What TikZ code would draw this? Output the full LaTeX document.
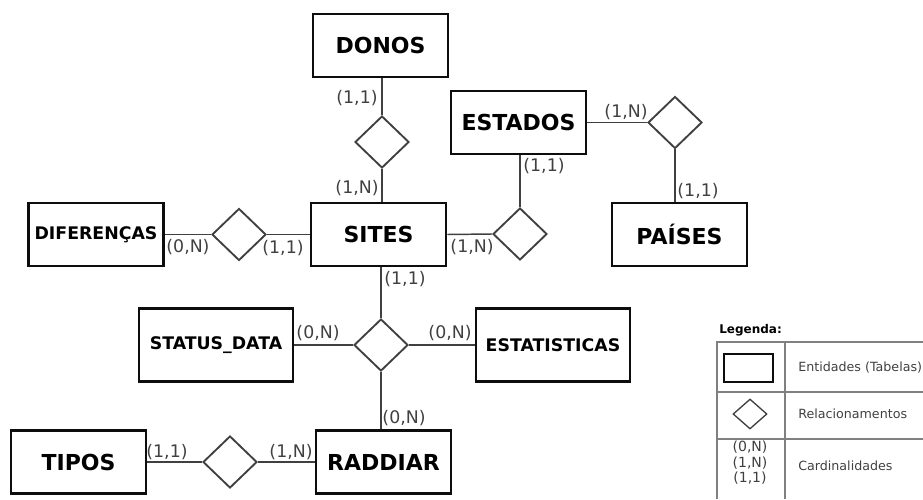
\documentclass[tikz,border=0pt]{standalone}
\usepackage{fontspec}
\setmainfont{DejaVu Sans}
\usepackage{tikz}
\usetikzlibrary{shapes.geometric}
\definecolor{myblack}{rgb}{0.050,0.050,0.050}
\definecolor{mygray}{rgb}{0.250,0.250,0.250}
\definecolor{tablegray}{rgb}{0.500,0.500,0.500}
\tikzstyle{entity}=[rectangle,draw=myblack,line width=2pt,minimum width=101.25pt,minimum height=47.25pt,inner sep=0pt,font=\bfseries\fontsize{16.5}{18}\selectfont]
\tikzstyle{wideentity}=[entity,minimum width=115.5pt,minimum height=54.75pt,font=\bfseries\fontsize{13}{15}\selectfont]
\tikzstyle{relation}=[diamond,draw=mygray,line width=1.4pt,minimum width=40.5pt,minimum height=39pt,inner sep=0pt]
\tikzstyle{card}=[text=mygray,inner sep=0pt,font=\fontsize{13}{14}\selectfont]
\tikzstyle{link}=[draw=mygray,line width=1.1pt]
\tikzstyle{legtext}=[anchor=west,text=mygray,inner sep=0pt,font=\fontsize{9.5}{11}\selectfont]

\begin{document}
\begin{tikzpicture}[x=0.75pt,y=-0.75pt]
	\useasboundingbox (0,0) rectangle (923,499);
	% entidades
	\node [style=entity] (donos) at (380.5,45.5) {DONOS};
	\node [style=entity] (estados) at (518.5,122.5) {ESTADOS};
	\node [style=entity,font=\bfseries\fontsize{13}{15}\selectfont] (diferencas) at (96,234.5) {DIFEREN\c{C}AS};
	\node [style=entity] (sites) at (378.5,234.5) {SITES};
	\node [style=entity] (paises) at (679.5,234.5) {PA\'ISES};
	\node [style=wideentity] (statusdata) at (216,345) {STATUS\_DATA};
	\node [style=wideentity] (estatisticas) at (553,345) {ESTATISTICAS};
	\node [style=entity] (tipos) at (78.5,462) {TIPOS};
	\node [style=entity] (raddiar) at (383.5,462) {RADDIAR};
	% relacionamentos
	\node [style=relation] (rdonos) at (382,142) {};
	\node [style=relation] (restados) at (675,122.5) {};
	\node [style=relation] (rdif) at (239,234.5) {};
	\node [style=relation] (rsites) at (520,234) {};
	\node [style=relation] (rstatus) at (381,345) {};
	\node [style=relation] (rtipos) at (230,462) {};
	% ligacoes
	\draw [style=link] (rdonos.north) -- (rdonos.north |- donos.south);
	\draw [style=link] (rdonos.south) -- (rdonos.south |- sites.north);
	\draw [style=link] (estados.east) -- (restados.west);
	\draw [style=link] (restados.south) -- (restados.south |- paises.north);
	\draw [style=link] (diferencas.east) -- (rdif.west);
	\draw [style=link] (rdif.east) -- (sites.west);
	\draw [style=link] (sites.east) -- (rsites.west);
	\draw [style=link] (rsites.north) -- (rsites.north |- estados.south);
	\draw [style=link] (rstatus.north) -- (rstatus.north |- sites.south);
	\draw [style=link] (statusdata.east) -- (rstatus.west);
	\draw [style=link] (rstatus.east) -- (estatisticas.west);
	\draw [style=link] (rstatus.south) -- (rstatus.south |- raddiar.north);
	\draw [style=link] (tipos.east) -- (rtipos.west);
	\draw [style=link] (rtipos.east) -- (raddiar.west);
	% cardinalidades
	\node [style=card] (c1) at (357,98) {(1,1)};
	\node [style=card] (c2) at (357,188) {(1,N)};
	\node [style=card] (c3) at (544,166) {(1,1)};
	\node [style=card] (c4) at (626,112) {(1,N)};
	\node [style=card] (c5) at (698,191) {(1,1)};
	\node [style=card] (c6) at (188,247) {(0,N)};
	\node [style=card] (c7) at (283,248) {(1,1)};
	\node [style=card] (c8) at (472,247) {(1,N)};
	\node [style=card] (c9) at (405,279) {(1,1)};
	\node [style=card] (c10) at (318,333) {(0,N)};
	\node [style=card] (c11) at (450,333) {(0,N)};
	\node [style=card] (c12) at (404,418) {(0,N)};
	\node [style=card] (c13) at (167,452) {(1,1)};
	\node [style=card] (c14) at (291,452) {(1,N)};
	% legenda
	\node [anchor=west,inner sep=0pt,font=\bfseries\fontsize{9}{11}\selectfont] (legtitle) at (719,330) {Legenda:};
	\draw [tablegray,line width=0.9pt] (717,499) -- (717,342) -- (923,342);
	\draw [tablegray,line width=0.9pt] (785,342) -- (785,499);
	\draw [tablegray,line width=0.9pt] (717,392) -- (923,392);
	\draw [tablegray,line width=0.9pt] (717,439) -- (923,439);
	\node [style=entity,minimum width=36.75pt,minimum height=21pt] (legentity) at (748.5,368) {};
	\node [style=relation,line width=1pt,minimum width=25.5pt,minimum height=22.5pt] (legrelation) at (750,414) {};
	\node [style=card,align=center,font=\fontsize{10.5}{11.6}\selectfont] (legcard) at (750,463) {(0,N)\\(1,N)\\(1,1)};
	\node [style=legtext] (legentitytext) at (798,368) {Entidades (Tabelas)};
	\node [style=legtext] (legrelationtext) at (798,414) {Relacionamentos};
	\node [style=legtext] (legcardtext) at (798,466) {Cardinalidades};
\end{tikzpicture}
\end{document}
